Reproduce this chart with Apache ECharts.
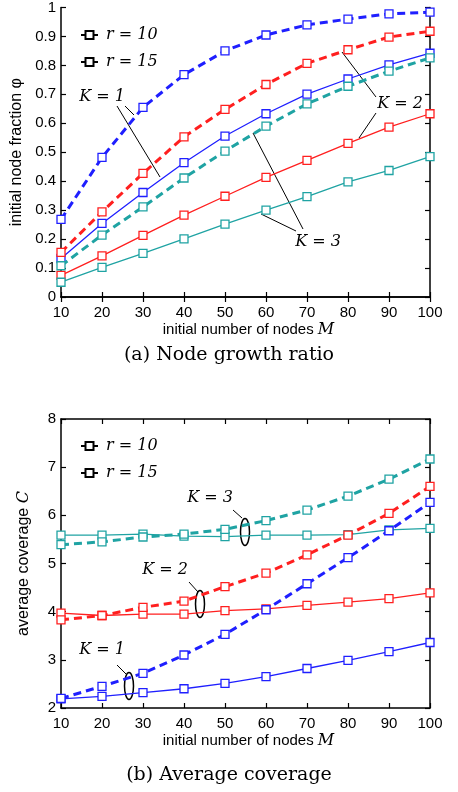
<!DOCTYPE html>
<html>
<head>
<meta charset="utf-8">
<script src="https://cdn.jsdelivr.net/npm/echarts@6/dist/echarts.min.js"></script>
<style>
html, body { margin: 0; padding: 0; background: #fff; }
#chart { width: 458px; height: 792px; }
</style>
</head>
<body>
<div id="chart"></div>
<script>
// initial number of nodes M
var nodes = [10, 20, 30, 40, 50, 60, 70, 80, 90, 100];

// (a) initial node fraction
var fracK1r10 = [0.133, 0.254, 0.361, 0.464, 0.556, 0.633, 0.701, 0.753, 0.802, 0.842];
var fracK1r15 = [0.268, 0.482, 0.655, 0.768, 0.850, 0.905, 0.940, 0.960, 0.978, 0.984];
var fracK2r10 = [0.075, 0.142, 0.213, 0.283, 0.348, 0.413, 0.472, 0.531, 0.587, 0.633];
var fracK2r15 = [0.154, 0.294, 0.427, 0.553, 0.648, 0.734, 0.807, 0.854, 0.898, 0.918];
var fracK3r10 = [0.051, 0.102, 0.151, 0.201, 0.252, 0.300, 0.347, 0.398, 0.437, 0.485];
var fracK3r15 = [0.108, 0.214, 0.311, 0.411, 0.504, 0.590, 0.667, 0.728, 0.780, 0.826];

// (b) average coverage
var covK1r10 = [2.19, 2.24, 2.32, 2.40, 2.51, 2.65, 2.82, 2.99, 3.17, 3.36];
var covK1r15 = [2.20, 2.45, 2.72, 3.10, 3.53, 4.04, 4.58, 5.12, 5.68, 6.27];
var covK2r10 = [3.97, 3.92, 3.95, 3.95, 4.02, 4.06, 4.13, 4.20, 4.27, 4.39];
var covK2r15 = [3.83, 3.92, 4.09, 4.22, 4.52, 4.80, 5.18, 5.59, 6.04, 6.60];
var covK3r10 = [5.59, 5.59, 5.61, 5.57, 5.56, 5.59, 5.59, 5.60, 5.70, 5.73];
var covK3r15 = [5.39, 5.45, 5.55, 5.61, 5.71, 5.89, 6.11, 6.40, 6.75, 7.17];

var legendNames = ['r = 10', 'r = 15'];

var BLUE = '#1f1fff', RED = '#ff1f1f', TEAL = '#1fa3a3';
var sans = 'Liberation Sans, Arial, sans-serif';
var serif = 'DejaVu Serif, Liberation Serif, serif';
var italicRich = { v: { fontFamily: serif, fontStyle: 'italic', fontSize: 16, color: '#000' } };

function pairs(ys) {
  return nodes.map(function (x, i) { return [x, ys[i]]; });
}

function line(name, ys, color, dashed, grid) {
  return {
    name: name,
    type: 'line',
    xAxisIndex: grid * 2,
    yAxisIndex: grid * 2,
    data: pairs(ys),
    symbol: 'rect',
    symbolSize: 8,
    showSymbol: true,
    animation: false,
    silent: true,
    lineStyle: { color: color, width: dashed ? 3 : 1.3, type: dashed ? [8, 5] : 'solid' },
    itemStyle: { color: '#fff', borderColor: color, borderWidth: 1.3 },
    z: dashed ? 3 : 2
  };
}

function xAxes(grid) {
  var base = {
    type: 'value', gridIndex: grid, min: 10, max: 100, interval: 10,
    axisLine: { lineStyle: { color: '#000', width: 1.5 } },
    axisTick: { inside: true, length: 5, lineStyle: { color: '#000', width: 1.2 } },
    splitLine: { show: false }
  };
  return [
    Object.assign({}, base, {
      position: 'bottom',
      name: 'initial number of nodes {v|M}',
      nameLocation: 'middle',
      nameGap: 25,
      nameTextStyle: { fontFamily: sans, fontSize: 15, color: '#000', rich: italicRich, padding: [0, 0, 0, 6] },
      axisLabel: { fontFamily: sans, fontSize: 15, color: '#000', margin: 8 }
    }),
    Object.assign({}, base, { position: 'top', axisLabel: { show: false } })
  ];
}

function yAxes(grid, min, max, interval, name) {
  var base = {
    type: 'value', gridIndex: grid, min: min, max: max, interval: interval,
    axisLine: { show: true, lineStyle: { color: '#000', width: 1.5 } },
    axisTick: { show: true, inside: true, length: 5, lineStyle: { color: '#000', width: 1.2 } },
    splitLine: { show: false }
  };
  return [
    Object.assign({}, base, {
      position: 'left',
      name: name,
      nameLocation: 'middle',
      nameGap: 29,
      nameTextStyle: { fontFamily: sans, fontSize: 16, color: '#000', rich: italicRich },
      axisLabel: { fontFamily: sans, fontSize: 15, color: '#000', margin: 5 }
    }),
    Object.assign({}, base, { position: 'right', axisLabel: { show: false } })
  ];
}

function legend(top) {
  return {
    data: legendNames,
    orient: 'vertical',
    left: 75,
    top: top,
    itemWidth: 17,
    itemHeight: 10,
    itemGap: 11,
    selectedMode: false,
    textStyle: { fontFamily: serif, fontStyle: 'italic', fontSize: 16, color: '#000', padding: [0, 0, 0, 3] }
  };
}

function txt(x, y, s, size, family, italic) {
  return {
    type: 'text', x: x, y: y,
    style: {
      text: s, fill: '#000', fontSize: size, fontFamily: family,
      fontStyle: italic ? 'italic' : 'normal',
      textAlign: 'center', textVerticalAlign: 'middle'
    }
  };
}
function seg(x1, y1, x2, y2) {
  return { type: 'line', shape: { x1: x1, y1: y1, x2: x2, y2: y2 }, style: { stroke: '#000', lineWidth: 1 } };
}
function oval(cx, cy) {
  return { type: 'ellipse', shape: { cx: cx, cy: cy, rx: 4.5, ry: 13.5 }, style: { stroke: '#000', fill: null, lineWidth: 1.5 } };
}

var chart = echarts.init(document.getElementById('chart'), null, { renderer: 'canvas' });

var option = {
  backgroundColor: '#fff',
  animation: false,
  grid: [
    { left: 61, right: 28, top: 7, height: 290 },
    { left: 61, right: 28, top: 419, height: 289 }
  ],
  xAxis: xAxes(0).concat(xAxes(1)),
  yAxis: yAxes(0, 0, 1, 0.1, 'initial node fraction φ').concat(yAxes(1, 2, 8, 1, 'average coverage {v|C}')),
  legend: [legend(22), legend(433)],
  series: [
    // legend keys
    { name: 'r = 10', type: 'line', data: [], symbol: 'rect', symbolSize: 7,
      lineStyle: { color: '#000', width: 1.3 }, itemStyle: { color: '#fff', borderColor: '#000', borderWidth: 1.3 } },
    { name: 'r = 15', type: 'line', data: [], symbol: 'rect', symbolSize: 7,
      lineStyle: { color: '#000', width: 3 }, itemStyle: { color: '#fff', borderColor: '#000', borderWidth: 1.5 } },

    line('a K1 r10', fracK1r10, BLUE, false, 0),
    line('a K1 r15', fracK1r15, BLUE, true, 0),
    line('a K2 r10', fracK2r10, RED, false, 0),
    line('a K2 r15', fracK2r15, RED, true, 0),
    line('a K3 r10', fracK3r10, TEAL, false, 0),
    line('a K3 r15', fracK3r15, TEAL, true, 0),

    line('b K1 r10', covK1r10, BLUE, false, 1),
    line('b K1 r15', covK1r15, BLUE, true, 1),
    line('b K2 r10', covK2r10, RED, false, 1),
    line('b K2 r15', covK2r15, RED, true, 1),
    line('b K3 r10', covK3r10, TEAL, false, 1),
    line('b K3 r15', covK3r15, TEAL, true, 1)
  ],
  graphic: [
    // captions
    txt(229, 355, '(a) Node growth ratio', 19, serif, false),
    txt(229, 775, '(b) Average coverage', 19, serif, false),

    // (a) annotations
    txt(102, 97, 'K = 1', 16, serif, true),
    seg(117, 106, 160, 177),
    seg(125, 106, 134, 115),
    txt(400, 104, 'K = 2', 16, serif, true),
    seg(376, 97, 342, 52),
    seg(376, 113, 359, 138),
    txt(318, 242, 'K = 3', 16, serif, true),
    seg(303, 229, 253, 133),
    seg(296, 231, 261, 214),

    // (b) annotations
    txt(102, 650, 'K = 1', 16, serif, true),
    seg(117, 665, 126, 674),
    oval(129, 686),
    txt(165, 570, 'K = 2', 16, serif, true),
    seg(189, 582, 198, 592),
    oval(200, 604),
    txt(210, 498, 'K = 3', 16, serif, true),
    seg(233, 510, 242, 518),
    oval(245, 532)
  ]
};

chart.setOption(option);
</script>
</body>
</html>
